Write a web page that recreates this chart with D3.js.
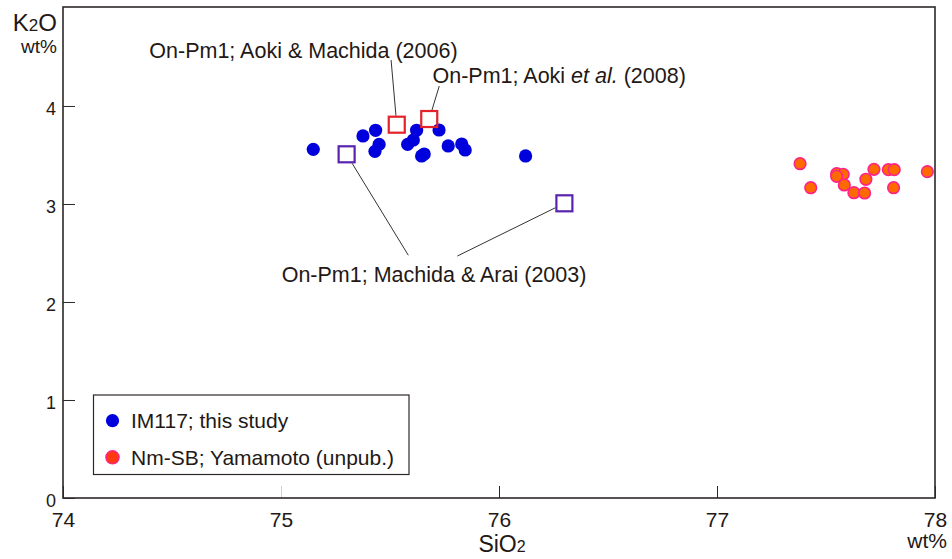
<!DOCTYPE html>
<html>
<head>
<meta charset="utf-8">
<script src="https://cdn.jsdelivr.net/npm/d3@7"></script>
<style>
    body { margin: 0; background: #fff; }
    text { font-family: "Liberation Sans", Arial, sans-serif; fill: #231815; }
</style>
</head>
<body>
<svg id="chart" width="952" height="559"></svg>
<script>
const xTicks = [74, 75, 76, 77, 78];
const yTicks = [0, 1, 2, 3, 4];

// IM117; this study
const im117SiO2 = [75.148, 75.376, 75.434, 75.450, 75.431, 75.581, 75.607, 75.622,
    75.645, 75.657, 75.725, 75.767, 75.829, 75.845, 76.122];
const im117K2O = [3.558, 3.694, 3.752, 3.608, 3.537, 3.608, 3.653, 3.752,
    3.490, 3.510, 3.755, 3.592, 3.612, 3.551, 3.490];

// Nm-SB; Yamamoto (unpub.)
const nmsbSiO2 = [77.381, 77.430, 77.549, 77.579, 77.549, 77.584, 77.628,
    77.677, 77.683, 77.720, 77.786, 77.813, 77.810, 77.965];
const nmsbK2O = [3.411, 3.166, 3.309, 3.303, 3.282, 3.194, 3.115,
    3.112, 3.252, 3.354, 3.350, 3.350, 3.166, 3.330];

// On-Pm1 reference values (squares)
const refSiO2 = [75.531, 75.680, 75.301, 76.300];
const refK2O = [3.809, 3.867, 3.507, 3.007];
const refSource = [0, 1, 2, 2];
const refColors = ['#e3222a', '#e3222a', '#5a22ae'];

const legendLabels = ['IM117; this study', 'Nm-SB; Yamamoto (unpub.)'];

const margin = { top: 7, right: 17, bottom: 61, left: 63 };
const width = 952 - margin.left - margin.right;
const height = 559 - margin.top - margin.bottom;
const ink = '#2f2828';

const x = d3.scaleLinear().domain([74, 78]).range([0, width]);
const y = d3.scaleLinear().domain([0, 5.01]).range([height, 0]);

const svg = d3.select('#chart');
const g = svg.append('g').attr('transform', `translate(${margin.left},${margin.top})`);

// axes, ticks pointing inward
const xAxis = d3.axisBottom(x).tickValues(xTicks).tickSizeInner(-12).tickSizeOuter(0)
    .tickPadding(14).tickFormat(d3.format('d'));
const gx = g.append('g').attr('transform', `translate(0,${height})`).call(xAxis);
gx.select('.domain').remove();
gx.selectAll('line').attr('stroke', ink);
gx.selectAll('.tick').filter(d => d === 75).select('line').attr('stroke', '#d0d0d0');
gx.selectAll('text').attr('font-size', 21).attr('fill', '#231815')
    .style('font-family', '"Liberation Sans", Arial, sans-serif');

const yAxis = d3.axisLeft(y).tickValues(yTicks).tickSizeInner(-12).tickSizeOuter(0)
    .tickPadding(7).tickFormat(d3.format('d'));
const gy = g.append('g').call(yAxis);
gy.select('.domain').remove();
gy.selectAll('line').attr('stroke', ink);
gy.selectAll('text').attr('font-size', 18).attr('fill', '#231815').attr('y', 2.5)
    .style('font-family', '"Liberation Sans", Arial, sans-serif');

g.append('rect')
    .attr('width', width).attr('height', height)
    .attr('fill', 'none').attr('stroke', ink).attr('stroke-width', 1.6);

// axis titles
const yTitle = svg.append('text').attr('x', 57).attr('y', 31).attr('text-anchor', 'end').attr('font-size', 24);
yTitle.append('tspan').text('K');
yTitle.append('tspan').attr('font-size', 17).text('2');
yTitle.append('tspan').text('O');
svg.append('text').attr('x', 57).attr('y', 53).attr('text-anchor', 'end').attr('font-size', 19).text('wt%');

const xTitle = svg.append('text').attr('x', margin.left + x(76) + 3).attr('y', 552)
    .attr('text-anchor', 'middle').attr('font-size', 23);
xTitle.append('tspan').text('SiO');
xTitle.append('tspan').attr('font-size', 16).text('2');
svg.append('text').attr('x', 947).attr('y', 548).attr('text-anchor', 'end').attr('font-size', 21).text('wt%');

// annotations: label anchor and leader ends in data units
const annotations = [
    { parts: [['On-Pm1; Aoki & Machida (2006)', false]], si: 75.103, k: 4.493, anchor: 'middle',
      refs: [0], ends: [[75.505, 4.469]] },
    { parts: [['On-Pm1; Aoki ', false], ['et al.', true], [' (2008)', false]], si: 75.695, k: 4.235,
      anchor: 'start', refs: [1], ends: [[75.726, 4.204]] },
    { parts: [['On-Pm1; Machida & Arai (2003)', false]], si: 75.702, k: 2.207, anchor: 'middle',
      refs: [2, 3], ends: [[75.584, 2.477], [75.809, 2.469]] }
];
const half = 9;

// leader from square edge toward label
const edgePoint = (cx, cy, ex, ey) => {
    const dx = ex - cx, dy = ey - cy;
    const t = half / Math.max(Math.abs(dx), Math.abs(dy));
    return [cx + dx * t, cy + dy * t];
};

annotations.forEach(a => {
    a.refs.forEach((r, i) => {
        const cx = x(refSiO2[r]), cy = y(refK2O[r]);
        const ex = x(a.ends[i][0]), ey = y(a.ends[i][1]);
        const [sx, sy] = edgePoint(cx, cy, ex, ey);
        g.append('line')
            .attr('x1', sx).attr('y1', sy).attr('x2', ex).attr('y2', ey)
            .attr('stroke', '#333').attr('stroke-width', 1);
    });
    const t = g.append('text').attr('x', x(a.si)).attr('y', y(a.k))
        .attr('text-anchor', a.anchor).attr('font-size', 21.5);
    a.parts.forEach(([s, it]) => t.append('tspan').attr('font-style', it ? 'italic' : null).text(s));
});

// IM117 points
g.append('g').selectAll('circle')
    .data(d3.range(im117SiO2.length))
    .join('circle')
    .attr('cx', i => x(im117SiO2[i]))
    .attr('cy', i => y(im117K2O[i]))
    .attr('r', 6.6)
    .attr('fill', '#0000dc');

// Nm-SB points
g.append('g').selectAll('circle')
    .data(d3.range(nmsbSiO2.length))
    .join('circle')
    .attr('cx', i => x(nmsbSiO2[i]))
    .attr('cy', i => y(nmsbK2O[i]))
    .attr('r', 5.8)
    .attr('fill', '#ff6a00')
    .attr('stroke', '#ff2288')
    .attr('stroke-width', 1.6);

// reference squares
g.append('g').selectAll('rect')
    .data(d3.range(refSiO2.length))
    .join('rect')
    .attr('x', i => x(refSiO2[i]) - half + 1)
    .attr('y', i => y(refK2O[i]) - half + 1)
    .attr('width', 2 * half - 2).attr('height', 2 * half - 2)
    .attr('fill', 'none')
    .attr('stroke', i => refColors[refSource[i]])
    .attr('stroke-width', 2.2);

// legend
const legend = svg.append('g').attr('transform', 'translate(93.5,395)');
legend.append('rect').attr('width', 315.5).attr('height', 79.5)
    .attr('fill', '#fff').attr('stroke', ink).attr('stroke-width', 1.2);
const legendFill = ['#0000dc', '#ff3a10'];
const legendStroke = ['none', '#ff2288'];
legendLabels.forEach((lab, i) => {
    const row = legend.append('g').attr('transform', `translate(0,${25.7 + i * 36.6})`);
    row.append('circle').attr('cx', 19).attr('r', 6.6)
        .attr('fill', legendFill[i]).attr('stroke', legendStroke[i]).attr('stroke-width', 1.4);
    row.append('text').attr('x', 37.5).attr('y', 7.5).attr('font-size', 21).text(lab);
});
</script>
</body>
</html>
